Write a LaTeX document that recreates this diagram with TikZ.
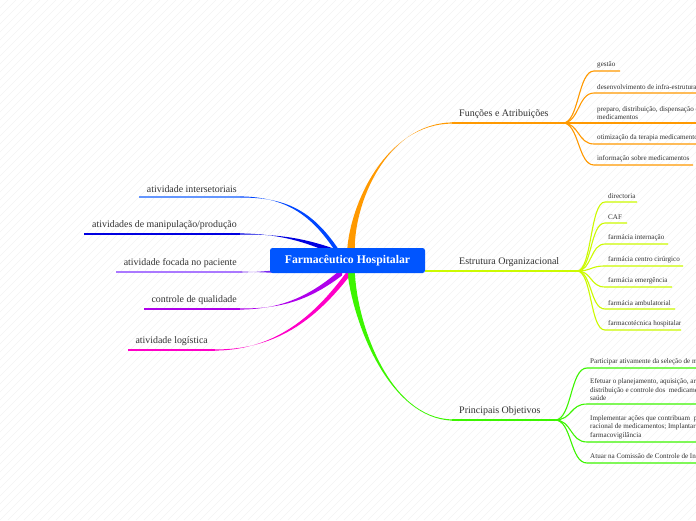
\documentclass[tikz,border=0pt]{standalone}
\usepackage{fontspec}
\setmainfont{Liberation Serif}
\usetikzlibrary{calc}
\definecolor{cOr}{RGB}{255,153,0}
\definecolor{cYe}{RGB}{204,250,0}
\definecolor{cGr}{RGB}{60,245,0}
\definecolor{cCenter}{RGB}{0,85,255}
\definecolor{cBlueA}{RGB}{0,70,255}
\definecolor{cBlueAl}{RGB}{100,150,255}
\definecolor{cBlueB}{RGB}{0,0,225}
\definecolor{cPurA}{RGB}{120,40,240}
\definecolor{cPurAl}{RGB}{170,120,255}
\definecolor{cVio}{RGB}{175,0,235}
\definecolor{cMag}{RGB}{255,0,200}
\definecolor{cTxt}{RGB}{50,50,50}
\definecolor{cStripe}{RGB}{243,243,243}
\newcommand\taper[6]{\fill[#1] ($(#2)+(#6)$) .. controls ($(#3)+0.5*(#6)$) and (#4) .. ($(#5)+(0,-0.6)$) -- ($(#5)+(0,0.6)$) .. controls (#4) and ($(#3)-0.5*(#6)$) .. ($(#2)-(#6)$) -- cycle;}
\tikzset{
  maintxt/.style={anchor=south west,inner sep=0pt,text=cTxt,font=\fontsize{10}{11}\selectfont},
  lefttxt/.style={anchor=south east,inner sep=0pt,text=cTxt,font=\fontsize{9.9}{11}\selectfont},
  subtxt/.style={anchor=south west,inner sep=0pt,text=cTxt,align=left,font=\fontsize{7.1}{8.6}\selectfont},
  subline/.style={line width=1.1pt},
  stripe/.style={cStripe,line width=0.5pt}
}
\begin{document}
\begin{tikzpicture}[x=1pt,y=-1pt]
\useasboundingbox (0,0) rectangle (696,520);
\clip (0,0) rectangle (696,520);
\fill[white] (0,0) rectangle (696,520);
\foreach \i in {-520,-512,...,696} \draw[stripe] (\i,520) -- (\i+520,0);

% ---------- coordinates
\coordinate (cO) at (351,250);
\coordinate (cG) at (351,270);
\coordinate (oE) at (452,123);
\coordinate (oF) at (563,123);
\coordinate (gE) at (452,420);
\coordinate (gF) at (555,420);
\coordinate (yS) at (425,271);
\coordinate (yF) at (577,271);

% ---------- right main branches
\taper{cOr}{cO}{352,205}{385,124}{oE}{3.8,0}
\draw[cOr,line width=1.2pt] (oE) -- (oF);
\taper{cGr}{cG}{354,320}{388,418}{gE}{3.8,0}
\draw[cGr,line width=1.2pt] (gE) -- (gF);
\draw[cYe,line width=1.4pt] (yS) -- (yF);

% ---------- left branches
\coordinate (l1s) at (338,252); \coordinate (l1e) at (240,197); \coordinate (l1f) at (139,197);
\taper{cBlueA}{l1s}{312,212}{285,197}{l1e}{0,3.5}
\draw[cBlueAl,line width=1.2pt] (l1e) -- (l1f);
\coordinate (l2s) at (335,252); \coordinate (l2e) at (240,234); \coordinate (l2f) at (84,234);
\taper{cBlueB}{l2s}{305,240}{280,234}{l2e}{0,3}
\draw[cBlueB,line width=1.2pt] (l2e) -- (l2f);
\coordinate (l3s) at (285,271); \coordinate (l3e) at (240,272); \coordinate (l3f) at (116,272);
\taper{cPurA}{l3s}{270,272}{255,272}{l3e}{0,1.8}
\draw[cPurAl,line width=1.2pt] (l3e) -- (l3f);
\coordinate (l4s) at (342,272); \coordinate (l4e) at (240,309); \coordinate (l4f) at (144,309);
\taper{cVio}{l4s}{310,298}{282,309}{l4e}{0,3.5}
\draw[cVio,line width=1.2pt] (l4e) -- (l4f);
\coordinate (l5s) at (348,274); \coordinate (l5e) at (215,350); \coordinate (l5f) at (128,350);
\taper{cMag}{l5s}{315,318}{275,350}{l5e}{0,4}
\draw[cMag,line width=1.2pt] (l5e) -- (l5f);

% ---------- center node
\node[fill=cCenter,rounded corners=2.5pt,minimum width=155pt,minimum height=25pt,inner sep=0pt,text=white,font=\bfseries\fontsize{11.7}{13}\selectfont] (center) at (347.5,260.5) {Farmacêutico Hospitalar};

% ---------- main labels
\node[maintxt] (fun) at (459,119) {Funções e Atribuições};
\node[maintxt] (est) at (459,267) {Estrutura Organizacional};
\node[maintxt] (obj) at (459,416) {Principais Objetivos};

\node[lefttxt] (a1) at (237,193) {atividade intersetoriais};
\node[lefttxt] (a2) at (237,230) {atividades de manipulação/produção};
\node[lefttxt] (a3) at (237,268) {atividade focada no paciente};
\node[lefttxt] (a4) at (237,305) {controle de qualidade};
\node[lefttxt] (a5) at (208,346) {atividade logística};

% ---------- orange sub-branches
\foreach \y/\e/\n in {71/620/o1,93/700/o2,123/700/o3,144/700/o4,165/693/o5}{
  \coordinate (\n a) at (594,\y); \coordinate (\n b) at (\e,\y);
  \draw[cOr,subline] (oF) .. controls (579,123) and (578,\y) .. (\n a) -- (\n b);
}
\node[subtxt] (t1) at (597,68) {gestão};
\node[subtxt] (t2) at (597,90) {desenvolvimento de infra-estrutura};
\node[subtxt] (t3) at (597,120) {preparo, distribuição, dispensação e controle de\\medicamentos};
\node[subtxt] (t4) at (597,141) {otimização da terapia medicamentosa};
\node[subtxt] (t5) at (597,162) {informação sobre medicamentos};

% ---------- yellow sub-branches
\foreach \y/\e/\n in {202/637/y1,223/627/y2,244/668/y3,266/683/y4,287/672/y5,309/675/y6,330/681/y7}{
  \coordinate (\n a) at (605,\y); \coordinate (\n b) at (\e,\y);
  \draw[cYe,line width=1.1pt] (yF) .. controls (592,271) and (590,\y) .. (\n a) -- (\n b);
}
\node[subtxt] (s1) at (608,199) {directoria};
\node[subtxt] (s2) at (608,220) {CAF};
\node[subtxt] (s3) at (608,241) {farmácia internação};
\node[subtxt] (s4) at (608,263) {farmácia centro cirúrgico};
\node[subtxt] (s5) at (608,284) {farmácia emergência};
\node[subtxt] (s6) at (608,306) {farmácia ambulatorial};
\node[subtxt] (s7) at (608,327) {farmacotécnica hospitalar};

% ---------- green sub-branches
\foreach \y/\n in {368/g1,404/g2,442/g3,463/g4}{
  \coordinate (\n a) at (587,\y); \coordinate (\n b) at (700,\y);
  \draw[cGr,subline] (gF) .. controls (572,420) and (570,\y) .. (\n a) -- (\n b);
}
\node[subtxt] (p1) at (590,365) {Participar ativamente da seleção de medicamentos};
\node[subtxt] (p2) at (590,401) {Efetuar o planejamento, aquisição, armazenamento,\\distribuição e controle dos\ \ medicamentos e produtos para a\\saúde};
\node[subtxt] (p3) at (590,439) {Implementar ações que contribuam\ \ para o uso\\racional de medicamentos; Implantar a\\farmacovigilância};
\node[subtxt] (p4) at (590,460) {Atuar na Comissão de Controle de Infecção Hospitalar};
\end{tikzpicture}
\end{document}
